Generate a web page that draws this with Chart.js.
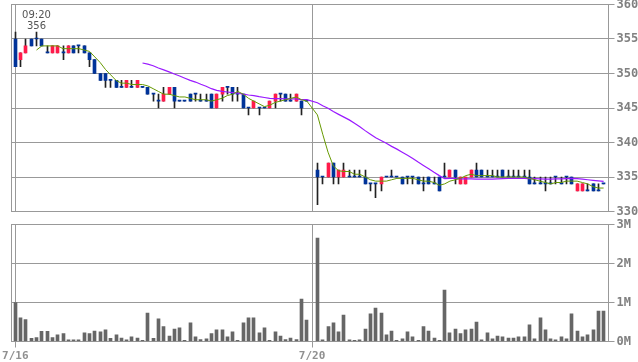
<!DOCTYPE html>
<html>
<head>
<meta charset="utf-8">
<script src="https://cdn.jsdelivr.net/npm/chart.js@4/dist/chart.umd.min.js"></script>
<style>
    body { margin: 0; background: #ffffff; }
    #wrap { position: relative; width: 638px; height: 362px; }
    #wrap canvas { position: absolute; left: 0; top: 0; }
</style>
</head>
<body>
<div id="wrap">
    <canvas id="priceChart" width="638" height="362"></canvas>
    <canvas id="volumeChart" width="638" height="362"></canvas>
</div>
<script>
// 5-minute bars, one slot per bar; slot 56 is the empty break before 7/20
const dayLabels = ['7/16', '7/20'];
const dayStart = [0, 56];
const peakLabel = '09:20';

const opens = [
    355, 352, 353, 355, 355, 355, 353, 353, 353, 353,
    353, 354, 354, 354, 353, 352, 350, 350, 349, 349,
    348, 348, 348, 348, 348, 348, 347, 346, 346, 347,
    348, 346, 346, 347, 347, 346, 346, 347, 345, 347,
    348, 348, 347, 347, 345, 345, 345, 345, 345, 346,
    347, 347, 346, 346, 346, 346,
    null,
    336, 335, 335, 337, 335, 335, 335, 335, 335, 335,
    334, 334, 334, 335, 335, 335, 335, 335, 335, 335,
    334, 335, 334, 335, 335, 335, 336, 334, 334, 335,
    336, 336, 335, 335, 335, 336, 335, 335, 335, 335,
    335, 334, 334, 334, 334, 335, 334, 335, 335, 333,
    333, 333, 334, 333, 334
];
const highs = [
    356, 353, 355, 355, 356, 355, 354, 354, 354, 354,
    354, 354, 354, 354, 353, 352, 350, 350, 349, 349,
    349, 349, 349, 349, 348, 348, 347, 347, 348, 348,
    348, 346, 346, 347, 347, 347, 347, 347, 347, 348,
    348, 348, 348, 347, 345, 346, 345, 345, 346, 347,
    347, 347, 347, 347, 346, 346,
    null,
    337, 335, 337, 337, 336, 337, 336, 336, 336, 336,
    334, 334, 335, 335, 336, 335, 335, 335, 335, 335,
    335, 335, 335, 335, 337, 336, 336, 335, 335, 336,
    337, 336, 336, 336, 336, 336, 336, 336, 336, 336,
    336, 335, 335, 335, 335, 335, 335, 335, 335, 334,
    334, 334, 334, 334, 334
];
const lows = [
    351, 351, 353, 354, 354, 354, 353, 353, 353, 352,
    353, 353, 353, 353, 351, 350, 349, 348, 348, 348,
    348, 348, 348, 348, 348, 347, 346, 345, 346, 347,
    345, 346, 346, 346, 346, 346, 346, 345, 345, 346,
    347, 346, 346, 345, 344, 345, 344, 345, 345, 345,
    346, 346, 346, 346, 344, 346,
    null,
    331, 334, 335, 334, 334, 335, 335, 335, 335, 334,
    333, 332, 333, 335, 335, 335, 334, 334, 334, 334,
    333, 334, 334, 333, 335, 335, 334, 334, 334, 335,
    335, 335, 335, 335, 335, 335, 335, 335, 335, 335,
    334, 334, 334, 333, 334, 334, 334, 334, 334, 333,
    333, 333, 333, 333, 334
];
const closes = [
    351, 353, 354, 354, 355, 354, 353, 354, 354, 353,
    354, 353, 354, 353, 352, 350, 349, 349, 349, 348,
    348, 349, 348, 349, 348, 347, 347, 346, 347, 348,
    346, 346, 346, 346, 347, 346, 346, 345, 347, 348,
    348, 347, 347, 345, 345, 346, 345, 345, 346, 347,
    347, 346, 346, 347, 345, 346,
    null,
    335, 335, 337, 335, 336, 336, 335, 335, 335, 334,
    334, 334, 335, 335, 335, 335, 334, 335, 335, 334,
    334, 334, 334, 333, 335, 336, 335, 335, 335, 336,
    335, 335, 335, 335, 335, 335, 335, 335, 335, 335,
    334, 334, 334, 334, 334, 335, 334, 335, 334, 334,
    334, 333, 333, 333, 334
];
// volume in millions of shares
const volumes = [
    1.00, 0.61, 0.56, 0.08, 0.10, 0.26, 0.26, 0.10, 0.17, 0.20,
    0.04, 0.04, 0.04, 0.22, 0.20, 0.27, 0.25, 0.30, 0.08, 0.17,
    0.09, 0.04, 0.12, 0.09, 0.03, 0.73, 0.08, 0.58, 0.38, 0.14,
    0.32, 0.35, 0.03, 0.48, 0.12, 0.05, 0.07, 0.20, 0.30, 0.30,
    0.12, 0.25, 0.03, 0.48, 0.61, 0.61, 0.22, 0.35, 0.03, 0.25,
    0.14, 0.05, 0.09, 0.05, 1.09, 0.55,
    null,
    2.65, 0.04, 0.38, 0.48, 0.25, 0.68, 0.04, 0.03, 0.04, 0.32,
    0.71, 0.86, 0.73, 0.17, 0.27, 0.03, 0.07, 0.25, 0.12, 0.03,
    0.38, 0.27, 0.09, 0.03, 1.32, 0.22, 0.32, 0.20, 0.30, 0.32,
    0.50, 0.04, 0.22, 0.07, 0.14, 0.12, 0.09, 0.09, 0.12, 0.12,
    0.43, 0.07, 0.61, 0.30, 0.07, 0.04, 0.12, 0.07, 0.71, 0.27,
    0.12, 0.17, 0.30, 0.78, 0.78
];
// short (green) and long (purple) average lines
const maShort = [
    null, null, null, null, 353.4, 354.0, 354.0, 354.0, 354.0, 353.6,
    353.6, 353.6, 353.6, 353.4, 353.2, 352.4, 351.6, 350.6, 349.8, 349.0,
    348.6, 348.6, 348.4, 348.4, 348.4, 348.2, 347.8, 347.4, 347.0, 347.0,
    346.8, 346.6, 346.6, 346.4, 346.2, 346.2, 346.2, 346.0, 346.2, 346.4,
    346.8, 347.0, 347.4, 347.0, 346.4, 346.0, 345.6, 345.2, 345.4, 345.8,
    346.0, 346.2, 346.4, 346.6, 346.2, 346.0,
    null,
    344.0, 341.2, 338.6, 336.6, 335.9, 335.8, 335.8, 335.4, 335.4, 335.0,
    334.6, 334.4, 334.4, 334.4, 334.6, 334.8, 334.8, 334.8, 334.8, 334.6,
    334.4, 334.4, 334.2, 333.8, 334.0, 334.4, 334.6, 334.8, 335.2, 335.4,
    335.2, 335.2, 335.2, 335.2, 335.0, 335.0, 335.0, 335.0, 335.0, 335.0,
    334.8, 334.6, 334.4, 334.2, 334.0, 334.2, 334.2, 334.4, 334.4, 334.4,
    334.2, 334.0, 333.6, 333.4, 333.4
];
const maLong = [
    null, null, null, null, null, null, null, null, null, null,
    null, null, null, null, null, null, null, null, null, null,
    null, null, null, null, 351.52, 351.36, 351.12, 350.80, 350.52, 350.24,
    349.92, 349.64, 349.32, 349.00, 348.76, 348.44, 348.16, 347.80, 347.56, 347.40,
    347.32, 347.24, 347.16, 347.00, 346.88, 346.80, 346.64, 346.52, 346.40, 346.36,
    346.36, 346.32, 346.32, 346.32, 346.20, 346.20,
    null,
    345.76, 345.32, 344.96, 344.48, 344.08, 343.68, 343.28, 342.80, 342.28, 341.72,
    341.20, 340.68, 340.28, 339.88, 339.44, 339.04, 338.60, 338.16, 337.68, 337.16,
    336.68, 336.20, 335.68, 335.20, 334.76, 334.80, 334.80, 334.72, 334.72, 334.72,
    334.68, 334.68, 334.68, 334.68, 334.72, 334.76, 334.80, 334.80, 334.80, 334.80,
    334.76, 334.76, 334.72, 334.68, 334.68, 334.72, 334.72, 334.76, 334.80, 334.76,
    334.68, 334.60, 334.52, 334.44, 334.36
];

const UP = '#ff1a4a';
const DOWN = '#003399';
const WICK = '#222222';
const GRID = '#999999';
const X_MIN = -0.72;
const X_MAX = 111.92;

document.addEventListener('DOMContentLoaded', () => {
    const slots = opens.map((o, i) => i).filter(i => opens[i] !== null);
    const toPoints = arr => arr.map((v, i) => ({ x: i, y: v })).filter(p => p.y !== null);

    const axisFont = { family: 'DejaVu Sans Mono', weight: 'bold', size: 12 };

    // frame round the plot area, under the marks
    const framePlugin = {
        id: 'frame',
        beforeDatasetsDraw(chart) {
            const { ctx, chartArea: a } = chart;
            ctx.save();
            ctx.strokeStyle = GRID;
            ctx.lineWidth = 1;
            ctx.strokeRect(a.left, a.top, a.right - a.left, a.bottom - a.top);
            ctx.restore();
        }
    };

    // snap bar centres so 1px and 3px bars land on whole pixels
    const snapPlugin = {
        id: 'snap',
        beforeDatasetsDraw(chart) {
            chart.data.datasets.forEach((ds, di) => {
                const meta = chart.getDatasetMeta(di);
                if (meta.type !== 'bar') return;
                meta.data.forEach(el => { el.x = Math.floor(el.x) + 0.5; });
            });
        }
    };

    // time and price of the session high
    const peakPlugin = {
        id: 'peak',
        afterDatasetsDraw(chart) {
            const top = Math.max(...highs.filter(v => v !== null));
            const i = highs.lastIndexOf(top);
            const x = chart.scales.x.getPixelForValue(i);
            const y = chart.scales.y.getPixelForValue(top);
            const ctx = chart.ctx;
            ctx.save();
            ctx.fillStyle = '#555555';
            ctx.font = '10px "DejaVu Sans"';
            ctx.textAlign = 'center';
            ctx.textBaseline = 'alphabetic';
            ctx.fillText(String(top), x, y - 3.5);
            ctx.fillText(peakLabel, x, y - 14.5);
            ctx.restore();
        }
    };

    const xAxis = (showLabels) => ({
        type: 'linear',
        min: X_MIN,
        max: X_MAX,
        offset: false,
        afterBuildTicks: axis => { axis.ticks = dayStart.map(v => ({ value: v })); },
        afterFit: axis => {
            axis.height = showLabels ? 20.5 : 0;
            axis.paddingLeft = 0;
            axis.paddingRight = 0;
        },
        ticks: {
            display: showLabels,
            autoSkip: false,
            maxRotation: 0,
            padding: 2,
            color: '#909090',
            font: { family: 'DejaVu Sans Mono', weight: 'bold', size: 11 },
            callback: v => dayLabels[dayStart.indexOf(v)]
        },
        grid: { color: GRID, offset: false, drawTicks: showLabels, tickLength: 6 },
        border: { display: false }
    });

    const yAxisFit = axis => {
        axis.width = 29.5;
        axis.paddingTop = 0;
        axis.paddingBottom = 0;
    };

    new Chart(document.getElementById('priceChart'), {
        type: 'bar',
        data: {
            datasets: [
                {
                    type: 'line',
                    data: toPoints(maShort),
                    borderColor: '#669900',
                    borderWidth: 1,
                    pointRadius: 0,
                    tension: 0,
                    order: 0
                },
                {
                    type: 'line',
                    data: toPoints(maLong),
                    borderColor: '#9a1aff',
                    borderWidth: 1.2,
                    pointRadius: 0,
                    tension: 0,
                    order: 0
                },
                {
                    // candle bodies, a 1px dash when open equals close
                    data: slots.map(i => ({ x: i, y: [opens[i], closes[i]] })),
                    backgroundColor: slots.map(i => closes[i] > opens[i] ? UP : DOWN),
                    barThickness: 3,
                    minBarLength: 1,
                    grouped: false,
                    order: 1
                },
                {
                    // wicks
                    data: slots.map(i => ({ x: i, y: [lows[i], highs[i]] })),
                    backgroundColor: WICK,
                    barThickness: 1,
                    grouped: false,
                    order: 2
                }
            ]
        },
        options: {
            responsive: false,
            animation: false,
            layout: { padding: { left: 11.5, top: 4.5, right: 0, bottom: 150.5 } },
            plugins: { legend: { display: false }, tooltip: { enabled: false } },
            scales: {
                x: xAxis(false),
                y: {
                    position: 'right',
                    min: 330,
                    max: 360,
                    afterFit: yAxisFit,
                    ticks: { stepSize: 5, padding: 2, color: '#808080', font: axisFont },
                    grid: { color: GRID, tickLength: 6 },
                    border: { display: false }
                }
            }
        },
        plugins: [framePlugin, snapPlugin, peakPlugin]
    });

    new Chart(document.getElementById('volumeChart'), {
        type: 'bar',
        data: {
            datasets: [{
                data: toPoints(volumes),
                backgroundColor: '#666666',
                barThickness: 3,
                grouped: false
            }]
        },
        options: {
            responsive: false,
            animation: false,
            layout: { padding: { left: 11.5, top: 224.5, right: 0, bottom: 0 } },
            plugins: { legend: { display: false }, tooltip: { enabled: false } },
            scales: {
                x: xAxis(true),
                y: {
                    position: 'right',
                    min: 0,
                    max: 3,
                    afterFit: yAxisFit,
                    ticks: { stepSize: 1, padding: 2, color: '#808080', font: axisFont, callback: v => v + 'M' },
                    grid: { color: GRID, tickLength: 6 },
                    border: { display: false }
                }
            }
        },
        plugins: [framePlugin, snapPlugin]
    });
});
</script>
</body>
</html>
